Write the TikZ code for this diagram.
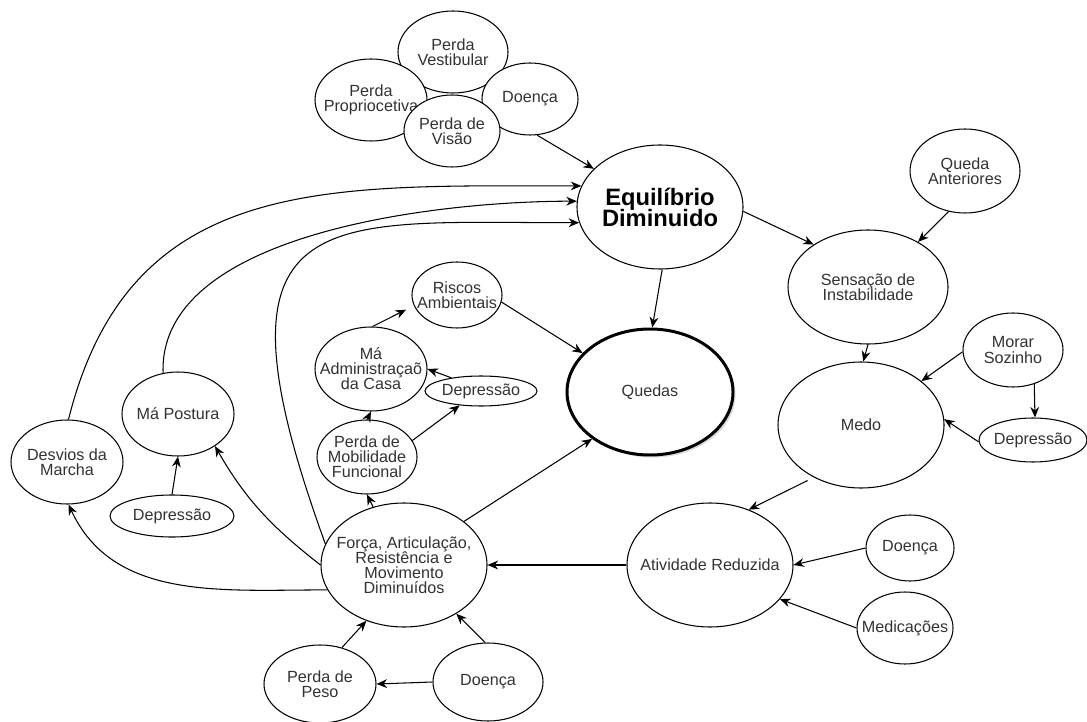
\documentclass[tikz,border=0pt]{standalone}
\usepackage{fontspec}
\setmainfont{Liberation Sans}
\usepackage{tikz}
\usetikzlibrary{arrows.meta,shapes.geometric,shadows}
\setlength{\lineskiplimit}{-4pt}

\tikzset{
    bubble/.style={ellipse, draw, fill=white, line width=0.6pt, inner xsep=-2.5mm, inner ysep=-1mm,
        align=center, text=black!80, font=\fontsize{9.2}{8.6}\selectfont},
    dims/.style 2 args={minimum width=#1cm, minimum height=#2cm},
    arr/.style={-{Stealth[length=6pt, width=5pt]}, line width=0.6pt},
}

\begin{document}
\begin{tikzpicture}
        \useasboundingbox (0, 0) rectangle (21.74, -14.44);

        % causas do equilibrio
        \node[bubble, dims={2.20}{1.64}] (vest) at (9.06, -1.04) {Perda\\Vestibular};
        \node[bubble, dims={2.24}{1.64}] (prop) at (7.42, -2.00) {Perda\\Propriocetiva};
        \node[bubble, dims={1.92}{1.44}] (doen1) at (10.60, -1.98) {Doença};
        \node[bubble, dims={1.92}{1.44}] (visao) at (9.04, -2.62) {Perda de\\Visão};

        \node[bubble, dims={3.32}{2.48}, text=black, font=\fontsize{13.5}{12}\selectfont\bfseries] (equil) at (13.20, -4.14) {Equilíbrio\\Diminuido};
        \node[bubble, dims={3.32}{2.52}, line width=1.7pt, drop shadow={opacity=0.3, shadow xshift=0.5mm, shadow yshift=-0.5mm}] (quedas) at (13.00, -7.84) {Quedas};

        % lado direito
        \node[bubble, dims={3.20}{2.28}] (sens) at (17.36, -5.74) {Sensação de\\Instabilidade};
        \node[bubble, dims={2.20}{1.68}] (qant) at (19.30, -3.42) {Queda\\Anteriores};
        \node[bubble, dims={2.00}{1.48}] (morar) at (20.26, -7.00) {Morar\\Sozinho};
        \node[bubble, dims={3.32}{2.52}] (medo) at (17.22, -8.50) {Medo};
        \node[bubble, dims={2.16}{0.88}] (dep3) at (20.66, -8.80) {Depressão};
        \node[bubble, dims={3.32}{2.48}] (ativ) at (14.20, -11.30) {Atividade Reduzida};
        \node[bubble, dims={1.76}{1.32}] (doen3) at (18.20, -10.96) {Doença};
        \node[bubble, dims={1.92}{1.44}] (medic) at (18.10, -12.56) {Medicações};

        % meio
        \node[bubble, dims={1.80}{1.32}] (riscos) at (9.14, -5.90) {Riscos\\Ambientais};
        \node[bubble, dims={2.24}{1.68}] (admin) at (7.42, -7.38) {Má\\Administraçaõ\\da Casa};
        \node[bubble, dims={2.24}{0.60}] (dep2) at (9.62, -7.82) {Depressão};
        \node[bubble, dims={2.00}{1.48}] (mobil) at (7.34, -9.14) {Perda de\\Mobilidade\\Funcional};
        \node[bubble, dims={3.32}{2.48}] (forca) at (8.08, -11.30) {Força, Articulação,\\Resistência e\\Movimento\\Diminuídos};
        \node[bubble, dims={2.24}{1.56}] (peso) at (6.40, -13.68) {Perda de\\Peso};
        \node[bubble, dims={2.20}{1.56}] (doen2) at (9.76, -13.64) {Doença};

        % lado esquerdo
        \node[bubble, dims={2.24}{1.68}] (postura) at (3.56, -8.28) {Má Postura};
        \node[bubble, dims={2.24}{1.68}] (desvios) at (1.34, -9.24) {Desvios da\\Marcha};
        \node[bubble, dims={2.48}{0.84}] (dep1) at (3.44, -10.32) {Depressão};

        \draw (doen1.-79) edge[arr] (equil.150)
              (equil.-3) edge[arr] (sens.142)
              (qant.-112) edge[arr] (sens.42)
              (equil.-88) edge[arr] (quedas.88)
              (sens.-90) edge[arr] (medo.88)
              (morar.182) edge[arr] (medo.36)
              (morar.-58) edge[arr] (dep3.85)
              (dep3.182) edge[arr] (medo.4)
              (medo.-132) edge[arr, shorten <=4pt] (ativ.55)
              (doen3.west) edge[arr] (ativ.east)
              (medic.west) edge[arr] (ativ.-26)
              (ativ.west) edge[arr] (forca.east)
              (forca.36) edge[arr] (quedas.219)
              (riscos.-9) edge[arr] (quedas.150)
              (admin.88) edge[arr, shorten >=5pt] (riscos.194)
              (dep2.156) edge[arr] (admin.east)
              (mobil.north) edge[arr] (admin.south)
              (mobil.20) edge[arr] (dep2.214)
              (forca.118) edge[arr] (mobil.south)
              (peso.59) edge[arr] (forca.236)
              (doen2.94) edge[arr] (forca.-43)
              (doen2.west) edge[arr] (peso.east)
              (dep1.north) edge[arr] (postura.south)
              (forca.west) edge[arr, out=142, in=-60] (postura.-41)
              (forca.198) edge[arr, out=180, in=-65] (desvios.-88)
              (desvios.88) edge[arr, out=76, in=180, looseness=1.15] (equil.165)
              (postura.110) edge[arr, out=92, in=180, looseness=0.8] (equil.176)
              (forca.165) edge[arr, out=110, in=180, out looseness=2.3, in looseness=1.6] (equil.191);
    \end{tikzpicture}
\end{document}
